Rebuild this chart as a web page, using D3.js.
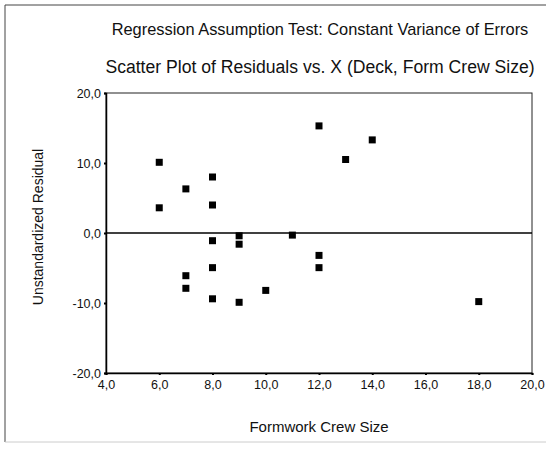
<!DOCTYPE html>
<html>
<head>
<meta charset="utf-8">
<script src="https://cdn.jsdelivr.net/npm/d3@7"></script>
<style>
  body { margin: 0; background: #fff; }
  svg text { font-family: "Liberation Sans", Arial, sans-serif; fill: #111; }
</style>
</head>
<body>
<svg id="chart" width="549" height="453"></svg>
<script>
// crew size (x) and unstandardized residual (y)
const crewSize = [6, 6, 7, 7, 7, 8, 8, 8, 8, 8, 9, 9, 9, 10, 11, 12, 12, 12, 13, 14, 18];
const residual = [10.1, 3.6, 6.3, -6.1, -7.9, 8.0, 4.0, -1.1, -4.95, -9.4, -0.4, -1.6, -9.9, -8.2, -0.3, 15.3, -3.2, -4.95, 10.5, 13.3, -9.8];
const xTicks = [4, 6, 8, 10, 12, 14, 16, 18, 20];
const yTicks = [-20, -10, 0, 10, 20];
const titleLines = [
  "Regression Assumption Test: Constant Variance of Errors",
  "Scatter Plot of Residuals vs. X (Deck, Form Crew Size)"
];

const margin = {left: 106, top: 93, right: 17, bottom: 80};
const W = 549, H = 453;
const width = W - margin.left - margin.right,
    height = H - margin.top - margin.bottom;

const svg = d3.select("#chart");

// outer frame (top, left solid; bottom faint)
svg.append("line").attr("x1", 5).attr("x2", 546).attr("y1", 5).attr("y2", 5)
  .attr("stroke", "#444").attr("stroke-width", 1);
svg.append("line").attr("x1", 5).attr("x2", 5).attr("y1", 5).attr("y2", 442)
  .attr("stroke", "#444").attr("stroke-width", 1);
svg.append("line").attr("x1", 5).attr("x2", 546).attr("y1", 442).attr("y2", 442)
  .attr("stroke", "#ccc").attr("stroke-width", 1);

const g = svg.append("g")
  .attr("transform", "translate(" + margin.left + "," + margin.top + ")");

const x = d3.scaleLinear().domain([4, 20]).range([0, width]);
const y = d3.scaleLinear().domain([-20, 20]).range([height, 0]);
const fmt = d => d3.format(".1f")(d).replace(".", ",").replace("\u2212", "-");

// plot frame
g.append("rect")
  .attr("x", 0).attr("y", 0)
  .attr("width", width).attr("height", height)
  .attr("fill", "none").attr("stroke", "#222").attr("stroke-width", 1);

// zero reference line
g.append("line")
  .attr("x1", 0).attr("x2", width)
  .attr("y1", y(0)).attr("y2", y(0))
  .attr("stroke", "#000").attr("stroke-width", 1.3);

// axes
const xAxis = g.append("g")
  .attr("transform", `translate(0, ${height})`)
  .call(d3.axisBottom(x).tickValues(xTicks).tickSize(2).tickPadding(5).tickFormat(fmt));
const yAxis = g.append("g")
  .call(d3.axisLeft(y).tickValues(yTicks).tickSize(2).tickPadding(3).tickFormat(fmt));
[xAxis, yAxis].forEach(a => {
  a.select(".domain").attr("stroke", "#000").attr("stroke-width", 1.5);
  a.selectAll(".tick line").attr("stroke", "#000").attr("stroke-width", 2);
  a.selectAll("text").style("font-size", "12.5px").attr("fill", "#111");
});

// points
g.selectAll(".pt")
  .data(crewSize.map((c, i) => [c, residual[i]]))
  .enter().append("rect")
  .attr("class", "pt")
  .attr("x", d => x(d[0]) - 3.5)
  .attr("y", d => y(d[1]) - 3.5)
  .attr("width", 7).attr("height", 7)
  .attr("fill", "#000");

// titles
const titleSize = [16.4, 17.6];
const titleY = [35, 73];
svg.selectAll(".title")
  .data(titleLines)
  .enter().append("text")
  .attr("class", "title")
  .attr("x", 320)
  .attr("y", (d, i) => titleY[i])
  .attr("text-anchor", "middle")
  .style("font-size", (d, i) => titleSize[i] + "px")
  .text(d => d);

svg.append("text")
  .attr("x", 319)
  .attr("y", 432)
  .attr("text-anchor", "middle")
  .style("font-size", "15px")
  .text("Formwork Crew Size");

svg.append("text")
  .attr("transform", "translate(43, 227) rotate(-90)")
  .attr("text-anchor", "middle")
  .style("font-size", "14px")
  .text("Unstandardized Residual");
</script>
</body>
</html>
